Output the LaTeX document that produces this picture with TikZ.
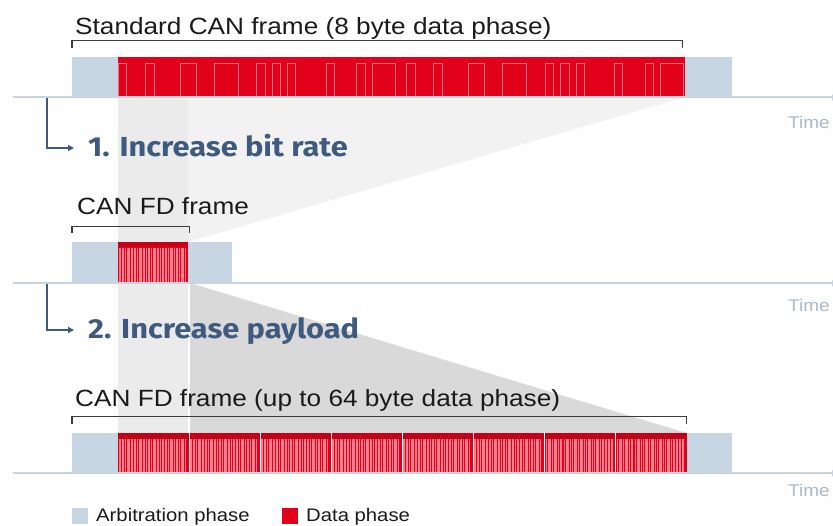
\documentclass[tikz,border=0pt]{standalone}
\usepackage{fontspec}
\setmainfont{Liberation Sans}[FakeStretch=1.115]
\newfontfamily\gainfont{Fira Sans}[FakeStretch=1.12]
\usetikzlibrary{arrows.meta}

\definecolor{arbblue}{HTML}{C8D5E3}
\definecolor{datared}{HTML}{E2001A}
\definecolor{darkred}{HTML}{C40018}
\definecolor{wavepink}{HTML}{EE717D}
\definecolor{fdpink}{HTML}{F4808D}
\definecolor{axisblue}{HTML}{C8D4E1}
\definecolor{timegray}{HTML}{A9B9CB}
\definecolor{slate}{HTML}{3E5A7F}
\definecolor{shadeA}{HTML}{F2F2F2}
\definecolor{shadeB}{HTML}{EBEBEB}
\definecolor{shadeC}{HTML}{D9D9D9}
\definecolor{inkgray}{HTML}{1A1A1A}

% stripes of one 8-byte block of the fast data phase
\newcommand\fdstripes[2]{%
  \foreach \s/\w in {1/1.5, 3.5/2.5, 7/1, 9/3, 13/1.5, 15.5/2, 19/1, 21/3,
                     25/1.5, 27.5/1, 29.5/2.5, 33/1, 35/3, 39/1.5, 41.5/1, 43.5/2.5,
                     47/1.5, 49.5/1, 51.5/3, 55.5/1, 57.5/2, 60.5/1.5, 63/2.5, 66.5/1.5}
    {\fill[fdpink] (\s,#1) rectangle (\s+\w,#2);}%
}

\tikzset{
  title/.style={anchor=base west, inner sep=0pt, text=inkgray,
                font=\fontsize{23.5}{28}\selectfont},
  gainlabel/.style={anchor=base west, inner sep=0pt, text=slate,
                font=\gainfont\bfseries\fontsize{27.5}{32}\selectfont},
  timelabel/.style={anchor=base west, inner sep=0pt, text=timegray,
                font=\fontsize{17}{20}\selectfont},
  legendtext/.style={anchor=base west, inner sep=0pt, text=inkgray,
                font=\fontsize{18.2}{22}\selectfont},
  axis/.style={draw=axisblue, line width=2pt, -{Latex[length=7pt,width=7pt]}},
  bracket/.style={draw=inkgray!85, line width=1.2pt},
  gainarrow/.style={draw=slate, line width=2pt,
                -{Triangle[length=6pt,width=6pt]}},
  wave/.style={draw=wavepink, line width=0.8pt},
}

\begin{document}
\begin{tikzpicture}[x=1pt, y=-1pt]
\useasboundingbox (0,0) rectangle (833,526);
\clip (0,0) rectangle (833,526);

% ---- projection shading between the frames
\fill[shadeA] (118,97) -- (685,97) -- (188,242) -- (118,242) -- cycle;
\fill[shadeB] (118,97) rectangle (188,433);
\fill[shadeC] (190,283) -- (686.7,433) -- (190,433) -- cycle;
\draw[white, line width=1.6pt] (189,283) -- (189,433);

% ---- standard CAN frame
\fill[arbblue] (72,57.3) rectangle (118,97);
\fill[datared] (118,57.3) rectangle (685,97);
\fill[arbblue] (685,57.3) rectangle (731.7,97);
\foreach \off in {0,288.3}{
  \foreach \a/\b in {0/8.7, 27/36.3, 62/78, 96/120, 138.7/147, 154.3/162.7,
                     169.7/177.7, 208/216, 238.7/247, 254.3/277}
    \draw[wave] (118+\off+\a,97) -- (118+\off+\a,63.3) -- (118+\off+\b,63.3) -- (118+\off+\b,97);
}
\draw[wave] (118,96.6) -- (685,96.6);

% ---- CAN FD frame
\fill[arbblue] (72,241.7) rectangle (118,283);
\fill[datared] (118,241.7) rectangle (188.3,283);
\fill[arbblue] (188.3,241.7) rectangle (231.7,283);
\begin{scope}[shift={(118,0)}]
  \fdstripes{248}{283}
\end{scope}
\fill[darkred] (118,241.7) rectangle (188.3,247.5);

% ---- CAN FD frame with 64 byte payload
\fill[arbblue] (72,433.3) rectangle (118,473);
\fill[datared] (118,433.3) rectangle (686.7,473);
\fill[arbblue] (686.7,433.3) rectangle (731.7,473);
\foreach \k in {0,...,7}{
  \begin{scope}[shift={(118+71.09*\k,0)}]
    \fdstripes{439}{473}
  \end{scope}
  \fill[darkred] (118+71.09*\k,433.3) rectangle (118+71.09*\k+71.09,439);
}
\foreach \k in {1,...,7}
  \draw[white, line width=1pt] (118+71.09*\k,433.3) -- (118+71.09*\k,473);

% ---- time axes
\coordinate (ax1a) at (12.7,97.5);  \coordinate (ax1b) at (839,97.5);
\coordinate (ax2a) at (12.7,283.3); \coordinate (ax2b) at (839,283.3);
\coordinate (ax3a) at (12.7,473.3); \coordinate (ax3b) at (839,473.3);
\draw[axis] (ax1a) -- (ax1b);
\draw[axis] (ax2a) -- (ax2b);
\draw[axis] (ax3a) -- (ax3b);
\node[timelabel] (time1) at (788,128.3) {Time};
\node[timelabel] (time2) at (788,311.7) {Time};
\node[timelabel] (time3) at (788,496.7) {Time};

% ---- brackets and frame titles
\draw[bracket] (72,48) -- (72,40.5) -- (682.7,40.5) -- (682.7,48);
\draw[bracket] (72,233.3) -- (72,226.7) -- (189.3,226.7) -- (189.3,233.3);
\draw[bracket] (72,424) -- (72,416.7) -- (686.7,416.7) -- (686.7,424);
\node[title] (title1) at (75,34.5) {Standard CAN frame (8 byte data phase)};
\node[title] (title2) at (77,215) {CAN FD frame};
\node[title] (title3) at (75,406.7) {CAN FD frame (up to 64 byte data phase)};

% ---- improvement steps
\node[gainlabel] (gain1) at (88,157) {1. Increase bit rate};
\node[gainlabel] (gain2) at (88,339) {2. Increase payload};
\coordinate (g1s) at (47,98);  \coordinate (g1e) at (74,148);
\coordinate (g2s) at (47,284); \coordinate (g2e) at (74,330);
\draw[gainarrow] (g1s) |- (g1e);
\draw[gainarrow] (g2s) |- (g2e);

% ---- legend
\fill[arbblue] (72,508) rectangle (88,524);
\node[legendtext] (legarb) at (96,521.5) {Arbitration phase};
\fill[datared] (282,508) rectangle (298,524);
\node[legendtext] (legdata) at (306,521.5) {Data phase};
\end{tikzpicture}
\end{document}
